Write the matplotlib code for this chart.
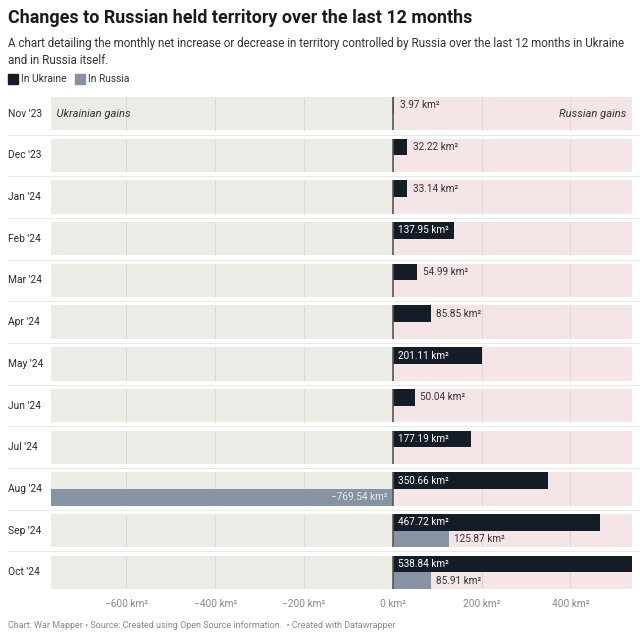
import numpy as np
import matplotlib

matplotlib.use("Agg")
import matplotlib.pyplot as plt
from matplotlib.transforms import blended_transform_factory
from matplotlib.patches import Rectangle

plt.rcParams["font.family"] = ["Roboto", "DejaVu Sans"]

months = ["Nov '23", "Dec '23", "Jan '24", "Feb '24", "Mar '24", "Apr '24",
          "May '24", "Jun '24", "Jul '24", "Aug '24", "Sep '24", "Oct '24"]
in_ukraine = [3.97, 32.22, 33.14, 137.95, 54.99, 85.85,
              201.11, 50.04, 177.19, 350.66, 467.72, 538.84]
in_russia = [np.nan] * 9 + [-769.54, 125.87, 85.91]
x_ticks = [-600, -400, -200, 0, 200, 400]

DARK = "#141c27"
GREY = "#8593a3"
BEIGE = "#ecebe5"
PINK = "#f6e5e6"

fig = plt.figure(figsize=(6.4, 6.39), dpi=100)
ax = fig.add_axes([51 / 640, 1 - 589 / 639, 581 / 640, 492 / 639])

xmin = min(np.nanmin(in_russia), 0)
xmax = max(in_ukraine)
ax.set_xlim(xmin, xmax)
n = len(months)
half = 0.4
ax.set_ylim(n - 1 + half, -half)

y = np.arange(n)
# panel backgrounds, grid, zero line
ax.barh(y, xmin, height=2 * half, color=BEIGE, zorder=0)
ax.barh(y, xmax, height=2 * half, color=PINK, zorder=0)
for t in x_ticks:
    xs = np.full(n, t)
    if t != 0:
        ax.vlines(xs, y - half, y + half, color="#d6d6d6", lw=0.6, zorder=1)
    else:
        ax.vlines(xs, y - half, y + half, color="#555555", lw=1.2, zorder=4)

# bars: Ukraine in upper half, Russia in lower half
ax.barh(y - half / 2, in_ukraine, height=half, color=DARK, zorder=3)
ax.barh(y + half / 2, in_russia, height=half, color=GREY, zorder=3)

for i, v in enumerate(in_ukraine):
    lab = f"{v:.2f} km²"
    if v > 100:
        ax.annotate(lab, (0, i - half / 2), xytext=(4, 0), textcoords="offset points",
                    ha="left", va="center", fontsize=7.2, color="white", zorder=5)
    else:
        ax.annotate(lab, (v, i - half / 2), xytext=(4, 0), textcoords="offset points",
                    ha="left", va="center", fontsize=7.2, color="#333333", zorder=5)
for i, v in enumerate(in_russia):
    if np.isnan(v):
        continue
    lab = f"{v:.2f} km²".replace("-", "−")
    if v < 0:
        ax.annotate(lab, (0, i + half / 2), xytext=(-4, 0), textcoords="offset points",
                    ha="right", va="center", fontsize=7.2, color="#e8eaee", zorder=5)
    else:
        ax.annotate(lab, (v, i + half / 2), xytext=(4, 0), textcoords="offset points",
                    ha="left", va="center", fontsize=7.2, color="#333333", zorder=5)

ax.text(xmin, 0, "  Ukrainian gains", ha="left", va="center", style="italic",
        fontsize=8, color="#333333", zorder=5)
ax.text(xmax, 0, "Russian gains  ", ha="right", va="center", style="italic",
        fontsize=8, color="#333333", zorder=5)

# row labels and separators
trans = blended_transform_factory(fig.transFigure, ax.transData)
for i, m in enumerate(months):
    ax.text(8 / 640, i, m, transform=trans, ha="left", va="center",
            fontsize=7.4, color="#2a2a2a")
for i in range(n - 1):
    ax.plot([8 / 640, 1], [i + 0.5, i + 0.5], transform=trans, color="#e8e8e8",
            lw=0.7, clip_on=False, zorder=0)

ax.set_xticks(x_ticks)
ax.set_xticklabels([f"{t} km²".replace("-", "−") for t in x_ticks],
                   fontsize=7.3, color="#8a8a8a")
ax.tick_params(axis="x", length=0, pad=7)
ax.set_yticks([])
for s in ax.spines.values():
    s.set_visible(False)

# header
fig.text(8 / 640, 1 - 18 / 639, "Changes to Russian held territory over the last 12 months",
         ha="left", va="center", fontsize=12.9, fontweight="bold", color="#1a1a1a")
fig.text(8 / 640, 1 - 52 / 639,
         "A chart detailing the monthly net increase or decrease in territory controlled by Russia over the last 12 months in Ukraine\nand in Russia itself.",
         ha="left", va="center", fontsize=8.4, color="#333333", linespacing=1.3)
fig.patches.append(Rectangle((8 / 640, 1 - 84 / 639), 10 / 640, 10 / 639,
                             transform=fig.transFigure, color=DARK))
fig.text(21 / 640, 1 - 79 / 639, "In Ukraine", ha="left", va="center",
         fontsize=7.4, color="#333333")
fig.patches.append(Rectangle((75 / 640, 1 - 84 / 639), 10 / 640, 10 / 639,
                             transform=fig.transFigure, color=GREY))
fig.text(88 / 640, 1 - 79 / 639, "In Russia", ha="left", va="center",
         fontsize=7.4, color="#333333")

fig.text(8 / 640, 1 - 625 / 639,
         "Chart: War Mapper • Source: Created using Open Source information.  • Created with Datawrapper",
         ha="left", va="center", fontsize=6.45, color="#8a8a8a")

fig.savefig("out.png", dpi=100)
